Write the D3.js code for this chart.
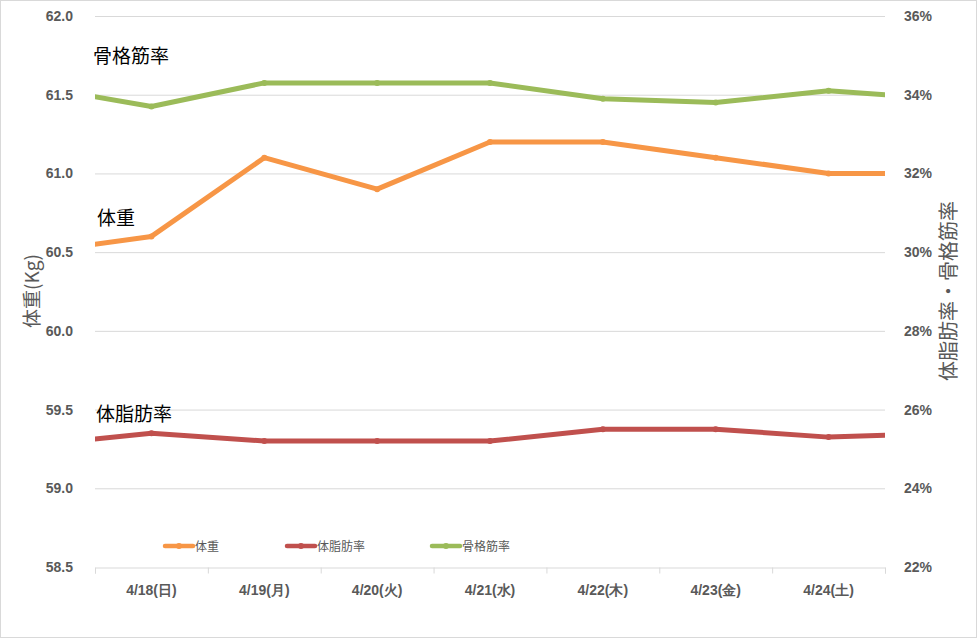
<!DOCTYPE html>
<html><head><meta charset="utf-8">
<script src="https://cdn.jsdelivr.net/npm/d3@7"></script>
<style>body{margin:0;background:#fff}svg{display:block}</style>
</head><body>
<svg id="c" width="977" height="638"></svg>
<script>
// Visible categories
const dates = ["4/18(日)","4/19(月)","4/20(火)","4/21(水)","4/22(木)","4/23(金)","4/24(土)"];
// Values include the neighbouring (clipped) day before 4/18 and after 4/24
const weight = [60.5, 60.6, 61.1, 60.9, 61.2, 61.2, 61.1, 61.0, 61.0];
const bodyFat = [25.1, 25.4, 25.2, 25.2, 25.2, 25.5, 25.5, 25.3, 25.4];
const muscle = [34.2, 33.7, 34.3, 34.3, 34.3, 33.9, 33.8, 34.1, 33.9];
const leftTicks = [58.5, 59.0, 59.5, 60.0, 60.5, 61.0, 61.5, 62.0];
const rightTicks = [22, 24, 26, 28, 30, 32, 34, 36];
const seriesNames = ["体重","体脂肪率","骨格筋率"];
const colors = ["#F79646","#C0504D","#9BBB59"];

const svg = d3.select("#c");
const L = 95, R = 885, T = 16, B = 567;
const font = "'Liberation Sans', Arial, sans-serif";
const cjk = "'Noto Sans CJK JP', sans-serif";

svg.append("rect").attr("x",0.5).attr("y",0.5).attr("width",976).attr("height",637)
  .attr("fill","#fff").attr("stroke","#d9d9d9");

const xIdx = d3.scaleLinear().domain([0, dates.length]).range([L, R]);
const yL = d3.scaleLinear().domain([58.5, 62.0]).range([B, T]);
const yR = d3.scaleLinear().domain([22, 36]).range([B, T]);

// gridlines
svg.append("g").selectAll("line").data(leftTicks.filter(d => d > 58.5)).join("line")
  .attr("x1", L).attr("x2", R).attr("y1", d => yL(d) + 0.5).attr("y2", d => yL(d) + 0.5)
  .attr("stroke", "#d9d9d9").attr("stroke-width", 1);

// x axis
const xAxis = d3.axisBottom(xIdx).tickValues(d3.range(0, dates.length + 1)).tickSize(6).tickFormat("");
const gx = svg.append("g").attr("transform", `translate(0,${B + 0.5})`).call(xAxis);
gx.select(".domain").attr("stroke", "#d9d9d9");
gx.selectAll(".tick line").attr("stroke", "#d9d9d9");
svg.append("g").selectAll("text").data(dates).join("text")
  .attr("x", (d, i) => xIdx(i + 0.5)).attr("y", 595)
  .attr("text-anchor", "middle").attr("font-family", font).attr("font-weight", "bold")
  .attr("font-size", 14).attr("fill", "#595959").text(d => d);

// left axis labels
const gl = svg.append("g").attr("transform", `translate(${L - 19},0)`)
  .call(d3.axisLeft(yL).tickValues(leftTicks).tickSize(0).tickFormat(d3.format(".1f")));
gl.select(".domain").remove();
gl.selectAll("text").attr("font-family", font).attr("font-weight", "bold").attr("font-size", 14).attr("fill", "#595959");

// right axis labels
const gr = svg.append("g").attr("transform", `translate(${R + 16},0)`)
  .call(d3.axisRight(yR).tickValues(rightTicks).tickSize(0).tickFormat(d => d + "%"));
gr.select(".domain").remove();
gr.selectAll("text").attr("font-family", font).attr("font-weight", "bold").attr("font-size", 14).attr("fill", "#595959");

// axis titles
svg.append("text").attr("transform", "translate(39,291) rotate(-90)").attr("text-anchor", "middle")
  .attr("font-family", cjk).attr("font-size", 19).attr("fill", "#595959").text("体重(Kg)");
svg.append("text").attr("transform", "translate(956,291) rotate(-90)").attr("text-anchor", "middle")
  .attr("font-family", cjk).attr("font-size", 20).attr("fill", "#595959").text("体脂肪率・骨格筋率");

// clip
svg.append("clipPath").attr("id", "clip").append("rect")
  .attr("x", L).attr("y", 0).attr("width", R - L).attr("height", 638);

const plot = svg.append("g").attr("clip-path", "url(#clip)");
const series = [
  {vals: weight, y: yL, c: colors[0]},
  {vals: bodyFat, y: yR, c: colors[1]},
  {vals: muscle, y: yR, c: colors[2]}
];
series.forEach(s => {
  const pts = s.vals.map((v, i) => [xIdx(i - 0.5), s.y(v)]);
  plot.append("path").attr("d", d3.line()(pts)).attr("fill", "none")
    .attr("stroke", s.c).attr("stroke-width", 5).attr("stroke-linejoin", "round");
  plot.selectAll(null).data(pts).join("circle").attr("cx", d => d[0]).attr("cy", d => d[1])
    .attr("r", 3).attr("fill", s.c);
});

// annotations
const ann = [["骨格筋率", 93, 63], ["体重", 97, 225], ["体脂肪率", 96, 421]];
svg.append("g").selectAll("text").data(ann).join("text")
  .attr("x", d => d[1]).attr("y", d => d[2]).attr("font-family", cjk).attr("font-size", 19)
  .attr("fill", "#000").text(d => d[0]);

// legend
const legX = [165, 287, 432];
const lg = svg.append("g").selectAll("g").data(seriesNames).join("g")
  .attr("transform", (d, i) => `translate(${legX[i]},546)`);
lg.append("line").attr("x1", 0).attr("x2", 28).attr("y1", 0).attr("y2", 0)
  .attr("stroke", (d, i) => colors[i]).attr("stroke-width", 4.5).attr("stroke-linecap", "round");
lg.append("circle").attr("cx", 14).attr("cy", 0).attr("r", 3).attr("fill", (d, i) => colors[i]);
lg.append("text").attr("x", 30).attr("y", 4.5).attr("font-family", cjk).attr("font-size", 12)
  .attr("fill", "#595959").text(d => d);
</script>
</body></html>
